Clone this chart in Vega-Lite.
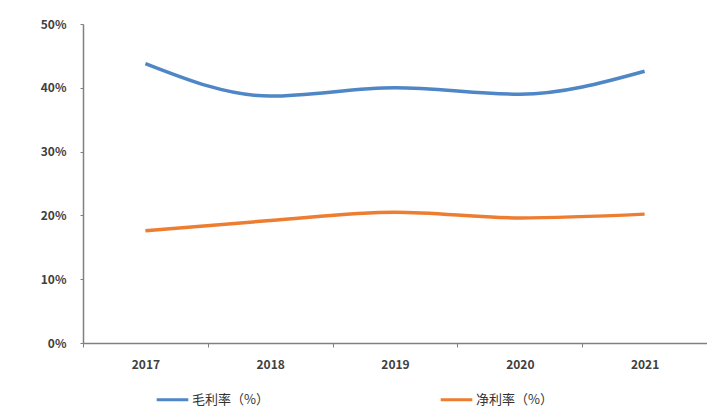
{
  "$schema": "https://vega.github.io/schema/vega-lite/v6.json",
  "autosize": {"type": "none"},
  "padding": {"left": 83, "top": 24, "right": 0, "bottom": 64},
  "width": 624,
  "height": 319,
  "background": "white",
  "config": {
    "view": {"stroke": null},
    "font": "Noto Sans CJK SC"
  },
  "data": {
    "values": [
      {"year": "2017", "series": "毛利率（%）", "value": 0.438},
      {"year": "2018", "series": "毛利率（%）", "value": 0.387},
      {"year": "2019", "series": "毛利率（%）", "value": 0.400},
      {"year": "2020", "series": "毛利率（%）", "value": 0.390},
      {"year": "2021", "series": "毛利率（%）", "value": 0.426},
      {"year": "2017", "series": "净利率（%）", "value": 0.176},
      {"year": "2018", "series": "净利率（%）", "value": 0.192},
      {"year": "2019", "series": "净利率（%）", "value": 0.205},
      {"year": "2020", "series": "净利率（%）", "value": 0.196},
      {"year": "2021", "series": "净利率（%）", "value": 0.202}
    ]
  },
  "mark": {"type": "line", "interpolate": "monotone", "strokeWidth": 3.5},
  "encoding": {
    "x": {
      "field": "year", "type": "ordinal",
      "scale": {"paddingInner": 0, "paddingOuter": 0},
      "axis": {
        "title": null, "labelAngle": 0, "labelFontSize": 12, "labelFontWeight": "bold",
        "labelColor": "#404040", "labelPadding": 12, "domainColor": "#808080", "domainWidth": 1.5,
        "tickColor": "#808080", "tickSize": 4, "tickBand": "extent"
      }
    },
    "y": {
      "field": "value", "type": "quantitative",
      "scale": {"domain": [0, 0.5]},
      "axis": {
        "title": null, "format": ".0%", "values": [0, 0.1, 0.2, 0.3, 0.4, 0.5],
        "grid": false, "labelFontSize": 12, "labelFontWeight": "bold", "labelColor": "#404040",
        "labelPadding": 14, "domainColor": "#808080", "domainWidth": 1.5,
        "tickColor": "#808080", "tickSize": 3
      }
    },
    "color": {
      "field": "series", "type": "nominal",
      "scale": {"domain": ["毛利率（%）", "净利率（%）"], "range": ["#4f86c6", "#ed7d31"]},
      "legend": {
        "title": null, "orient": "none", "legendX": 72, "legendY": 358,
        "direction": "horizontal", "symbolType": "stroke", "symbolSize": 1000,
        "symbolStrokeWidth": 3, "labelFontSize": 13, "labelColor": "#333333",
        "columnPadding": 165, "labelOffset": 2
      }
    }
  }
}
